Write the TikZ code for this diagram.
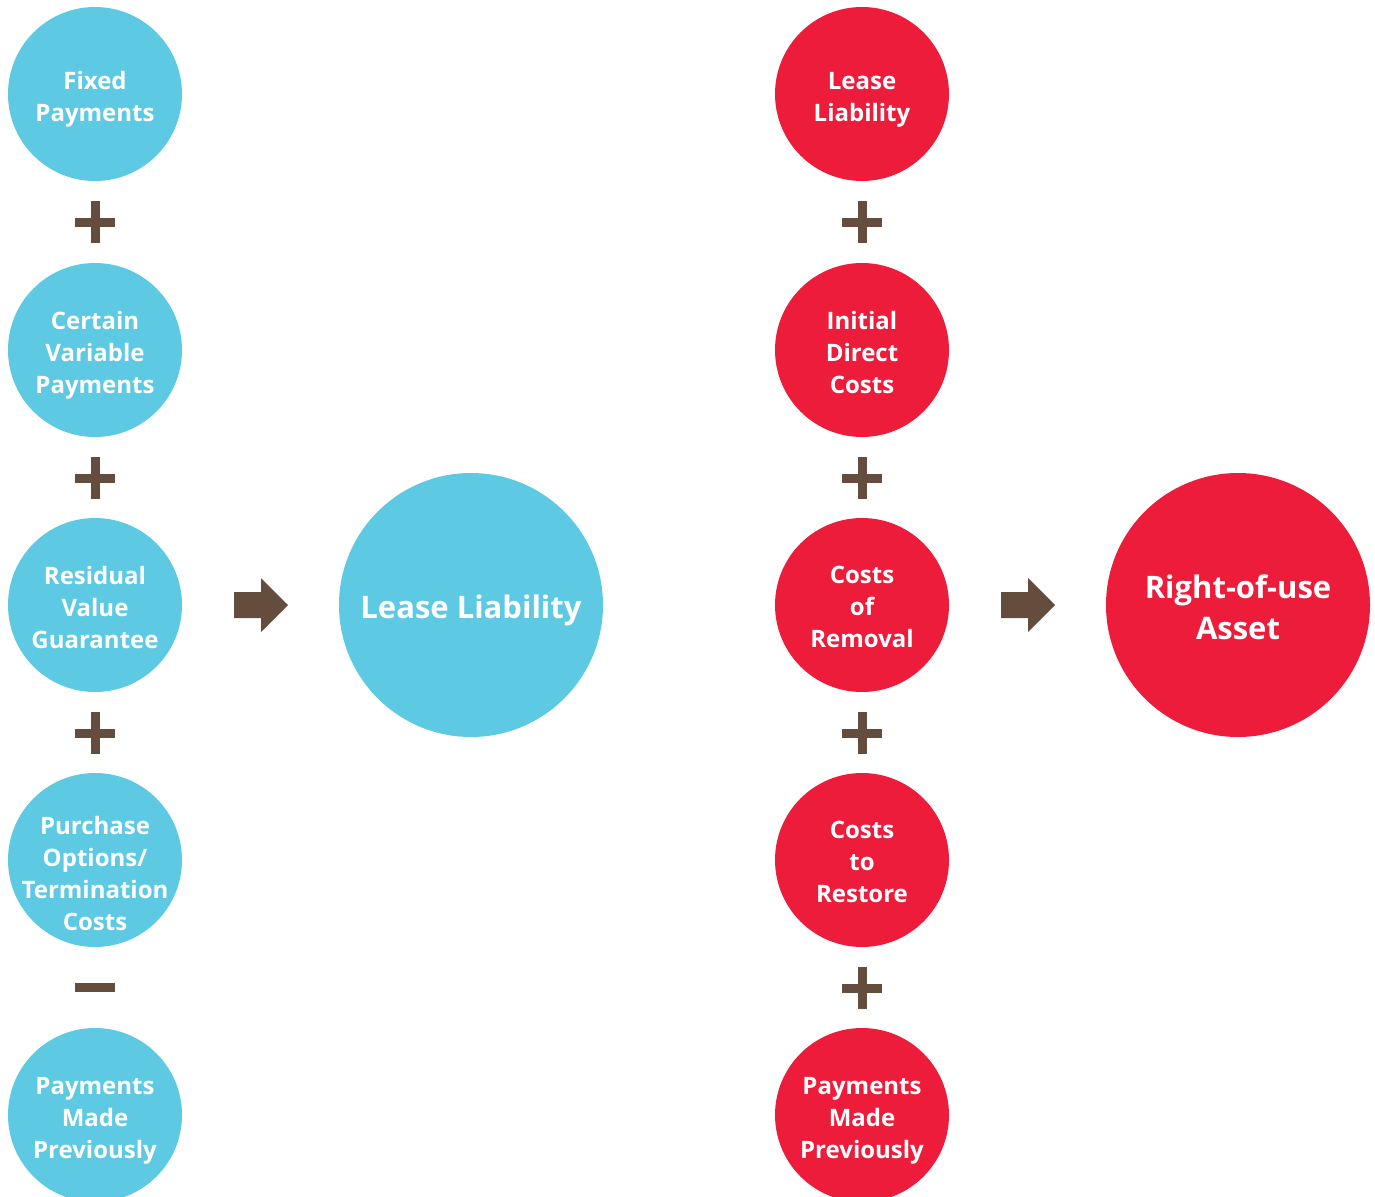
\documentclass[tikz,border=0pt]{standalone}
\usepackage{fontspec}
\setmainfont{Open Sans}
\definecolor{cblue}{HTML}{5DC9E3}
\definecolor{cred}{HTML}{ED1C3B}
\definecolor{cbrown}{HTML}{654D3D}
\begin{document}
\begin{tikzpicture}[x=1pt,y=-1pt,
  small/.style={circle,minimum size=174pt,inner sep=0pt},
  big/.style={circle,minimum size=264pt,inner sep=0pt},
  stxt/.style={align=center,text=white,inner sep=0pt,
    font=\fontsize{24}{32}\selectfont\bfseries},
  btxt/.style={align=center,text=white,inner sep=0pt,
    font=\fontsize{31}{41}\selectfont\bfseries},
  bl/.style={fill=cblue},
  rd/.style={fill=cred},
  op/.style={fill=cbrown},
]
\useasboundingbox (0,0) rectangle (1375,1196);
\clip (0,0) rectangle (1375,1196);
% left column
\node[small,bl,label={[stxt,yshift=-5pt]center:Fixed\\Payments}] (f) at (95,94) {};
\node[small,bl,label={[stxt,yshift=-5pt]center:Certain\\Variable\\Payments}] (c) at (95,350) {};
\node[small,bl,label={[stxt,yshift=-2pt]center:Residual\\Value\\Guarantee}] (r) at (95,605) {};
\node[small,bl,label={[stxt,yshift=-13pt]center:Purchase\\Options/\\Termination\\Costs}] (p) at (95,860) {};
\node[small,bl,label={[stxt,yshift=-6pt]center:Payments\\Made\\Previously}] (m) at (95,1115) {};
\node[big,bl,label={[btxt,yshift=-5pt]center:Lease Liability}] (LL) at (471,605) {};
% right column
\node[small,rd,label={[stxt,yshift=-6pt]center:Lease\\Liability}] (l2) at (862,94) {};
\node[small,rd,label={[stxt,yshift=-2pt]center:Initial\\Direct\\Costs}] (i) at (862,350) {};
\node[small,rd,label={[stxt,yshift=-2pt]center:Costs\\of\\Removal}] (cr) at (862,605) {};
\node[small,rd,label={[stxt,yshift=-2pt]center:Costs\\to\\Restore}] (cs) at (862,860) {};
\node[small,rd,label={[stxt,yshift=-6pt]center:Payments\\Made\\Previously}] (pm) at (862,1115) {};
\node[big,rd,label={[btxt,yshift=-2pt]center:Right-of-use\\Asset}] (ROU) at (1238,605) {};
% operators
\foreach \x in {95,862}{
  \foreach \y in {222,478,733}{
    \fill[op] (\x-20,\y-4.5) rectangle (\x+20,\y+4.5);
    \fill[op] (\x-4.5,\y-21) rectangle (\x+4.5,\y+21);
  }
}
\fill[op] (75,983) rectangle (115,992);
\fill[op] (842,983.5) rectangle (882,992.5);
\fill[op] (857.5,967) rectangle (866.5,1009);
% arrows
\foreach \x in {234,1001}{
  \fill[op] (\x,592) -- (\x+27,592) -- (\x+27,578) -- (\x+54,605) -- (\x+27,632) -- (\x+27,618) -- (\x,618) -- cycle;
}
\end{tikzpicture}
\end{document}
